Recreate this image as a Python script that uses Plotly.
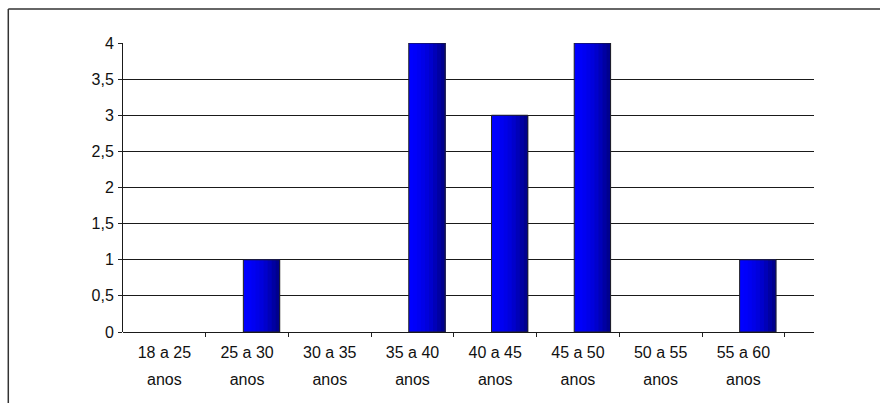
import plotly.graph_objects as go

categories = ["18 a 25", "25 a 30", "30 a 35", "35 a 40", "40 a 45", "45 a 50", "50 a 55", "55 a 60"]
second_line = ["anos"] * 8
values = [0, 1, 0, 4, 3, 4, 0, 1]
y_ticks = [0, 0.5, 1, 1.5, 2, 2.5, 3, 3.5, 4]
y_ticktext = ["0", "0,5", "1", "1,5", "2", "2,5", "3", "3,5", "4"]

x = list(range(len(categories)))
shown = [v if v else None for v in values]
FONT = dict(family="Liberation Sans, Arial, sans-serif", size=16, color="#111")

fig = go.Figure()

# gradient bar made of overlapping slices (each extends to the right edge)
bar_w = 0.44
bar_off = -0.045
slice_colors = ["#0000FF", "#0000FA", "#0000F2", "#0000E8", "#0000DC", "#0000CC", "#0000B8", "#0000A2", "#00008E"]
n = len(slice_colors)
sw = bar_w / n
for i, c in enumerate(slice_colors):
    fig.add_trace(go.Bar(x=x, y=shown, width=bar_w - i * sw, offset=bar_off + i * sw,
                         marker=dict(color=c, line=dict(width=0)),
                         showlegend=False, hoverinfo="skip", xaxis="x", yaxis="y"))
# outline
fig.add_trace(go.Bar(x=x, y=shown, width=bar_w, offset=bar_off,
                     marker=dict(color="rgba(0,0,0,0)", line=dict(color="#222", width=1)),
                     showlegend=False, xaxis="x", yaxis="y"))

xrange = [-0.5, 7.854]
fig.update_layout(
    width=880, height=403,
    margin=dict(l=123, r=66, t=43, b=71),
    paper_bgcolor="white", plot_bgcolor="white",
    barmode="overlay",
    showlegend=False,
    font=FONT,
    xaxis=dict(range=xrange, tickvals=x, ticktext=categories, ticks="",
               showgrid=False, zeroline=False, showline=False,
               tickfont=FONT, ticklabelstandoff=9,
               minor=dict(tickvals=[i + 0.5 for i in x], ticks="outside", ticklen=4,
                          tickcolor="#222", tickwidth=1, showgrid=False)),
    xaxis2=dict(range=xrange, overlaying="x", side="bottom", tickvals=x, ticktext=second_line,
                ticks="", showgrid=False, zeroline=False, showline=False,
                tickfont=FONT, ticklabelstandoff=36),
    yaxis=dict(range=[0, 4], tickvals=y_ticks, ticktext=y_ticktext, ticks="outside", ticklen=4,
               tickcolor="#222", showgrid=True, gridcolor="#1a1a1a", gridwidth=1,
               showline=True, linecolor="#1a1a1a", linewidth=1, zeroline=True,
               zerolinecolor="#1a1a1a", zerolinewidth=1, tickfont=FONT, ticklabelstandoff=1),
    shapes=[
        dict(type="line", xref="paper", yref="paper", x0=-0.166, x1=1.2, y0=1.1178, y1=1.1178,
             line=dict(color="#333", width=1.5)),
        dict(type="line", xref="paper", yref="paper", x0=-0.166, x1=-0.166, y0=1.1178, y1=-0.5,
             line=dict(color="#333", width=1.5)),
    ],
)
# dummy trace to activate xaxis2
fig.add_trace(go.Scatter(x=[x[0]], y=[None], xaxis="x2", yaxis="y", showlegend=False, hoverinfo="skip"))

fig.write_html("out.html")
